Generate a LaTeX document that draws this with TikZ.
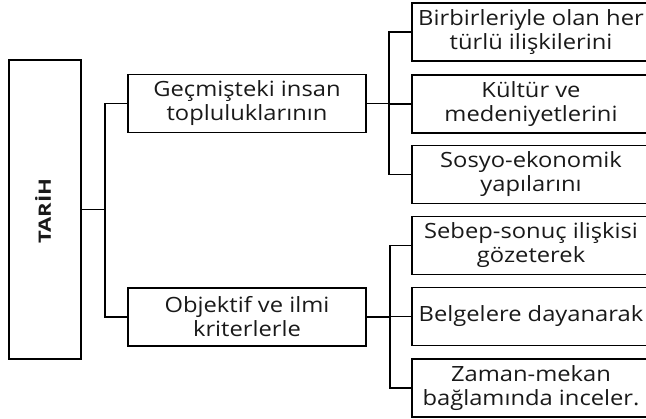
\documentclass[tikz,border=0pt]{standalone}
\usepackage{fontspec}
\setmainfont{Open Sans}[FakeStretch=1.13]
\newfontfamily\titlefont{Open Sans}[FakeStretch=1.3]
\begin{document}
\begin{tikzpicture}[x=1pt,y=-1pt,
  box/.style={draw=black,line width=1.5pt,rectangle,align=center,inner sep=0pt,
    font=\fontsize{21}{24}\selectfont,text=black!90},
  midbox/.style={box,minimum width=238pt,minimum height=58pt},
  rbox/.style={box,minimum width=238pt,minimum height=58pt},
  conn/.style={draw=black,line width=1.5pt}]
\useasboundingbox (0,0) rectangle (646,419);
\node[box,minimum width=72pt,minimum height=299pt] (T) at (45,209.5) {};
\node[rotate=90,font=\titlefont\fontsize{17}{20}\selectfont\bfseries,text=black!90] (Tt) at (43,211) {TARİH};
\node[midbox] (M1) at (247,103.5) {Geçmişteki insan\\topluluklarının};
\node[midbox] (M2) at (247,317) {Objektif ve ilmi\\kriterlerle};
\node[rbox] (R1) at (531,32) {Birbirleriyle olan her\\türlü ilişkilerini};
\node[rbox] (R2) at (531,104) {Kültür ve\\medeniyetlerini};
\node[rbox] (R3) at (531,174.5) {Sosyo-ekonomik\\yapılarını};
\node[rbox] (R4) at (531,245.5) {Sebep-sonuç ilişkisi\\gözeterek};
\node[rbox] (R5) at (531,316.5) {Belgelere dayanarak};
\node[rbox] (R6) at (531,388) {Zaman-mekan\\bağlamında inceler.};
\coordinate (tj) at (105,209.5);
\coordinate (aj) at (389,0);
\coordinate (bj) at (390,0);
\draw[conn] (T.east) -- (tj);
\draw[conn] (M1.west) -- (tj|-M1.west) -- (tj|-M2.west) -- (M2.west);
\draw[conn] (M1.east) -- (aj|-M1.east);
\draw[conn] (R1.west) -- (aj|-R1.west) -- (aj|-R3.west) -- (R3.west);
\draw[conn] (aj|-R2.west) -- (R2.west);
\draw[conn] (M2.east) -- (bj|-M2.east);
\draw[conn] (R4.west) -- (bj|-R4.west) -- (bj|-R6.west) -- (R6.west);
\draw[conn] (bj|-R5.west) -- (R5.west);
\end{tikzpicture}
\end{document}
